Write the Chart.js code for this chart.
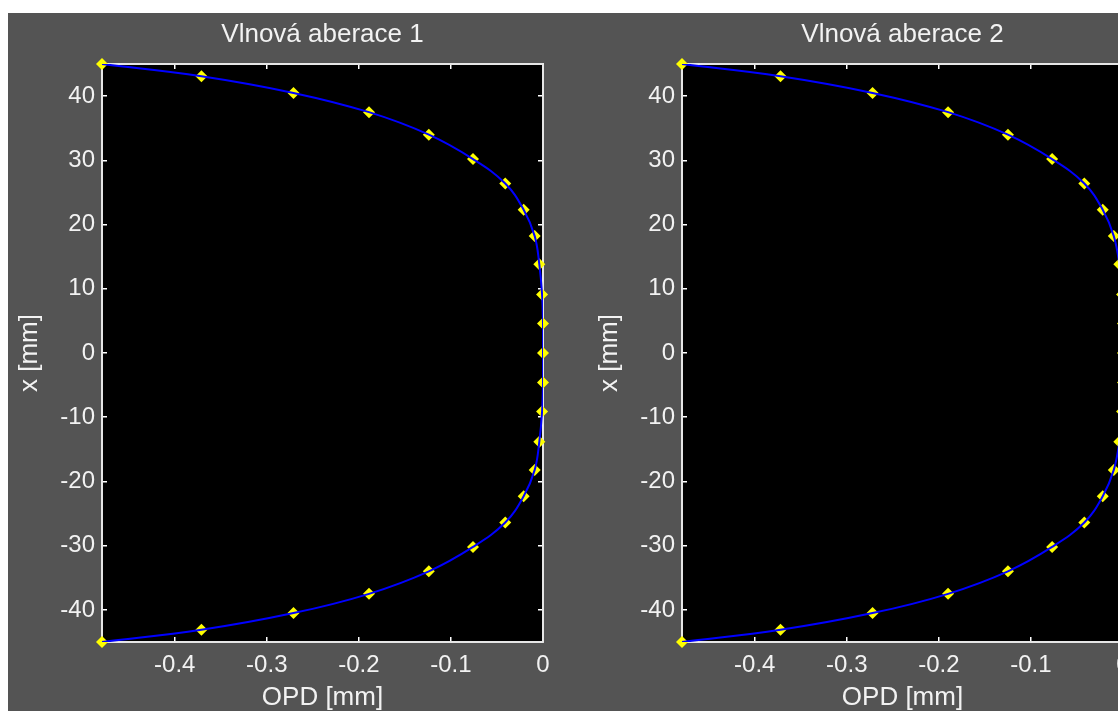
<!DOCTYPE html>
<html>
<head>
<meta charset="utf-8">
<title>Vlnová aberace</title>
<script src="https://cdn.jsdelivr.net/npm/chart.js@4.4.0/dist/chart.umd.min.js"></script>
<style>
    html, body { margin: 0; padding: 0; background: #ffffff; width: 1118px; height: 711px; overflow: hidden; }
    #figure { position: absolute; left: 8px; top: 13px; right: 0; bottom: 0; background: #545454; }
    canvas { position: absolute; top: 13px; }
    #chartWave1 { left: 8px; }
    #chartWave2 { left: 588px; }
</style>
</head>
<body>
<div id="figure"></div>
<canvas id="chartWave1" width="580" height="698"></canvas>
<canvas id="chartWave2" width="592" height="698"></canvas>
<script>
// x [mm] of the sample points (top to bottom)
var xPositions = [45, 43.1, 40.5, 37.5, 34.0, 30.2, 26.4, 22.3, 18.2, 13.8, 9.1, 4.6, 0,
    -4.6, -9.1, -13.8, -18.2, -22.3, -26.4, -30.2, -34.0, -37.5, -40.5, -43.1, -45];
// OPD [mm] for each sample point
var opdWave1 = [-0.479, -0.371, -0.271, -0.189, -0.124, -0.076, -0.041, -0.021, -0.009, -0.004, -0.001, 0, 0,
    0, -0.001, -0.004, -0.009, -0.021, -0.041, -0.076, -0.124, -0.189, -0.271, -0.371, -0.479];
var opdWave2 = [-0.479, -0.372, -0.272, -0.190, -0.125, -0.077, -0.042, -0.022, -0.010, -0.004, -0.001, 0, 0,
    0, -0.001, -0.004, -0.010, -0.022, -0.042, -0.077, -0.125, -0.190, -0.272, -0.372, -0.479];

var xTickValues = [-0.4, -0.3, -0.2, -0.1, 0];
var yTickValues = [-40, -30, -20, -10, 0, 10, 20, 30, 40];
var OPD_MIN = -0.479;
var X_MIN = -45, X_MAX = 45;

var TEXT_COLOR = "#f2f2f2";
var AXIS_COLOR = "#e6e6e6";
var FONT_FAMILY = "'Liberation Sans', Arial, sans-serif";

var plotBackground = {
    id: "plotBackground",
    beforeDraw: function (chart) {
        var a = chart.chartArea;
        var ctx = chart.ctx;
        ctx.save();
        ctx.fillStyle = "#000000";
        ctx.fillRect(a.left, a.top, a.right - a.left, a.bottom - a.top);
        ctx.restore();
    }
};

function fixedTicks(values) {
    return function (scale) {
        scale.ticks = values.map(function (v) { return { value: v }; });
    };
}

function toPoints(opd) {
    return xPositions.map(function (x, i) { return { x: opd[i], y: x }; });
}

function axisGrid() {
    return { drawOnChartArea: false, drawTicks: true, tickLength: -5, color: "#ffffff", lineWidth: 1.5 };
}

function makeChart(canvasId, title, opd) {
    var canvas = document.getElementById(canvasId);
    var rightPad = canvas.width - 535;
    var tickFont = { family: FONT_FAMILY, size: 24, weight: "normal" };
    var labelFont = { family: FONT_FAMILY, size: 26, lineHeight: 1, weight: "normal" };

    new Chart(canvas.getContext("2d"), {
        type: "scatter",
        data: {
            datasets: [{
                label: "OPD",
                data: toPoints(opd),
                showLine: true,
                borderColor: "#0000ff",
                borderWidth: 2,
                tension: 0.4,
                pointRadius: 0,
                order: 0
            }, {
                label: "body",
                data: toPoints(opd),
                showLine: false,
                pointStyle: "rectRot",
                pointRadius: 6,
                backgroundColor: "#ffff00",
                borderColor: "#ffff00",
                borderWidth: 0,
                clip: false,
                order: 1
            }]
        },
        options: {
            responsive: false,
            devicePixelRatio: 1,
            animation: false,
            layout: { padding: { left: 0, right: rightPad, top: 0, bottom: 0 } },
            plugins: {
                legend: { display: false },
                tooltip: { enabled: false },
                title: {
                    display: true,
                    text: title,
                    color: TEXT_COLOR,
                    font: labelFont,
                    fullSize: false,
                    padding: { top: 9, bottom: 16 }
                }
            },
            scales: {
                x: {
                    type: "linear",
                    position: "bottom",
                    min: OPD_MIN,
                    max: 0,
                    afterBuildTicks: fixedTicks(xTickValues),
                    afterFit: function (s) { s.height = 69; },
                    grid: axisGrid(),
                    border: { color: AXIS_COLOR, width: 2 },
                    ticks: {
                        color: TEXT_COLOR, font: tickFont, padding: 14, maxRotation: 0, autoSkip: false,
                        callback: function (v) { return String(v); }
                    },
                    title: { display: true, text: "OPD [mm]", color: TEXT_COLOR, font: labelFont, padding: { top: 0, bottom: 0 } }
                },
                x2: {
                    type: "linear",
                    axis: "x",
                    position: "top",
                    min: OPD_MIN,
                    max: 0,
                    afterBuildTicks: fixedTicks(xTickValues),
                    afterFit: function (s) { s.height = 0; },
                    grid: axisGrid(),
                    border: { color: AXIS_COLOR, width: 2 },
                    ticks: { callback: function () { return ""; } }
                },
                y: {
                    type: "linear",
                    position: "left",
                    min: X_MIN,
                    max: X_MAX,
                    afterBuildTicks: fixedTicks(yTickValues),
                    afterFit: function (s) { s.width = 94; },
                    grid: axisGrid(),
                    border: { color: AXIS_COLOR, width: 2 },
                    ticks: {
                        color: TEXT_COLOR, font: tickFont, padding: 12, autoSkip: false,
                        callback: function (v) { return String(v); }
                    },
                    title: { display: true, text: "x [mm]", color: TEXT_COLOR, font: labelFont, padding: { top: 9, bottom: 0 } }
                },
                y2: {
                    type: "linear",
                    axis: "y",
                    position: "right",
                    min: X_MIN,
                    max: X_MAX,
                    afterBuildTicks: fixedTicks(yTickValues),
                    afterFit: function (s) { s.width = 0; },
                    grid: axisGrid(),
                    border: { color: AXIS_COLOR, width: 2 },
                    ticks: { callback: function () { return ""; } }
                }
            }
        },
        plugins: [plotBackground]
    });
}

makeChart("chartWave1", "Vlnová aberace 1", opdWave1);
makeChart("chartWave2", "Vlnová aberace 2", opdWave2);
</script>
</body>
</html>
